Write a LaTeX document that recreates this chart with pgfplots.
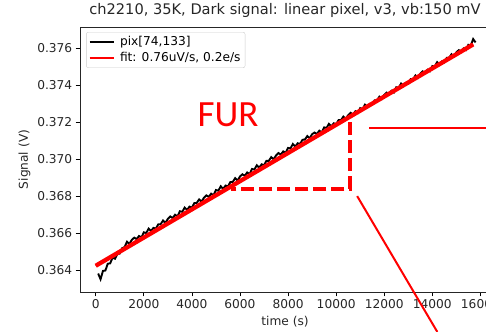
\documentclass[border=0pt]{standalone}
\usepackage{pgfplots}
\pgfplotsset{compat=1.18}
\usepackage{fontspec}
\setmainfont{DejaVu Sans}
\newfontfamily\furfont{Carlito}
\begin{document}
\begin{tikzpicture}
\useasboundingbox (0bp,0bp) rectangle (486bp,332bp);
\clip (0bp,0bp) rectangle (486bp,332bp);
\begin{axis}[
  at={(80bp,40bp)}, anchor=south west,
  scale only axis, width=410bp, height=265bp,
  xmin=-655, xmax=16400, ymin=0.362809, ymax=0.377153,
  xtick={0,2000,4000,6000,8000,10000,12000,14000,16000},
  ytick={0.364,0.366,0.368,0.370,0.372,0.374,0.376},
  scaled x ticks=false, scaled y ticks=false,
  xticklabel style={/pgf/number format/1000 sep={}},
  yticklabel style={/pgf/number format/.cd, fixed, fixed zerofill, precision=3},
  /pgf/number format/assume math mode=true,
  tick align=outside, xtick pos=bottom, ytick pos=left,
  major tick length=4.3bp,
  tick style={black, line width=0.8bp},
  axis line style={line width=0.9bp, black!85},
  ticklabel style={font=\fontsize{12.2bp}{14bp}\selectfont, text=black!85},
  xlabel={time (s)}, ylabel={Signal (V)},
  label style={font=\fontsize{12.2bp}{14bp}\selectfont, text=black!85},
  title={ch2210, 35K, Dark signal: linear pixel, v3, vb:150 mV},
  title style={font=\fontsize{14.6bp}{17bp}\selectfont, text=black!85},
  legend style={at={(0.015,0.981)}, anchor=north west, draw=black!20, rounded corners=2bp,
    font=\fontsize{12.2bp}{14bp}\selectfont, inner sep=2.5bp, row sep=1bp, column sep=3bp},
  legend cell align=left,
  legend image post style={xscale=1.45, line width=1.5bp},
  clip=false,
]
\addplot[black, line width=1.9bp] table {
t v
100 0.36381
200 0.36350
300 0.36395
400 0.36397
500 0.36434
600 0.36436
700 0.36467
800 0.36461
900 0.36486
1000 0.36489
1100 0.36518
1200 0.36524
1300 0.36553
1400 0.36541
1500 0.36563
1600 0.36575
1700 0.36567
1800 0.36584
1900 0.36576
2000 0.36604
2100 0.36600
2200 0.36624
2300 0.36611
2400 0.36628
2500 0.36624
2600 0.36647
2700 0.36648
2800 0.36668
2900 0.36655
3000 0.36677
3100 0.36690
3200 0.36681
3300 0.36699
3400 0.36690
3500 0.36718
3600 0.36715
3700 0.36738
3800 0.36725
3900 0.36743
4000 0.36738
4100 0.36762
4200 0.36763
4300 0.36782
4400 0.36770
4500 0.36791
4600 0.36804
4700 0.36796
4800 0.36813
4900 0.36805
5000 0.36833
5100 0.36829
5200 0.36853
5300 0.36839
5400 0.36857
5500 0.36853
5600 0.36876
5700 0.36877
5800 0.36897
5900 0.36884
6000 0.36906
6100 0.36918
6200 0.36910
6300 0.36928
6400 0.36919
6500 0.36947
6600 0.36944
6700 0.36967
6800 0.36954
6900 0.36972
7000 0.36967
7100 0.36991
7200 0.36991
7300 0.37011
7400 0.36999
7500 0.37020
7600 0.37033
7700 0.37025
7800 0.37042
7900 0.37034
8000 0.37061
8100 0.37058
8200 0.37082
8300 0.37068
8400 0.37086
8500 0.37082
8600 0.37105
8700 0.37106
8800 0.37125
8900 0.37113
9000 0.37135
9100 0.37144
9200 0.37136
9300 0.37154
9400 0.37144
9500 0.37172
9600 0.37169
9700 0.37191
9800 0.37178
9900 0.37194
10000 0.37190
10100 0.37211
10200 0.37211
10300 0.37230
10400 0.37218
10500 0.37238
10600 0.37251
10700 0.37241
10800 0.37259
10900 0.37250
11000 0.37276
11100 0.37271
11200 0.37295
11300 0.37281
11400 0.37299
11500 0.37295
11600 0.37318
11700 0.37319
11800 0.37338
11900 0.37326
12000 0.37348
12100 0.37360
12200 0.37352
12300 0.37370
12400 0.37361
12500 0.37389
12600 0.37385
12700 0.37409
12800 0.37396
12900 0.37413
13000 0.37409
13100 0.37433
13200 0.37433
13300 0.37453
13400 0.37440
13500 0.37462
13600 0.37475
13700 0.37466
13800 0.37484
13900 0.37476
14000 0.37504
14100 0.37501
14200 0.37525
14300 0.37511
14400 0.37529
14500 0.37524
14600 0.37548
14700 0.37549
14800 0.37568
14900 0.37556
15000 0.37578
15100 0.37590
15200 0.37582
15300 0.37599
15400 0.37591
15500 0.37619
15600 0.37615
15700 0.37650
15800 0.37632
};
\addlegendentry{pix[74,133]}
\addplot[color=red, line width=1.9bp] coordinates {(0,0.36423) (15700,0.37621)};
\addlegendentry{fit: 0.76uV/s, 0.2e/s}
\addplot[red, line width=4.3bp, forget plot] coordinates {(0,0.36423) (15700,0.37621)};
% annotations
\draw[red, line width=4bp, dash pattern=on 13bp off 5bp] (axis cs:10560,0.37200) -- (axis cs:10560,0.36838) -- (axis cs:5625,0.36838);
\draw[red, line width=2bp] (axis cs:11375,0.37168) -- (axis cs:16400,0.37168);
\draw[red, line width=2bp] (axis cs:10875,0.36800) -- (axis cs:14208,0.36065);
\node[red, font=\furfont\fontsize{37bp}{40bp}\selectfont, inner sep=0pt] at (axis cs:5500,0.37240) {FUR};
\end{axis}
\end{tikzpicture}
\end{document}
